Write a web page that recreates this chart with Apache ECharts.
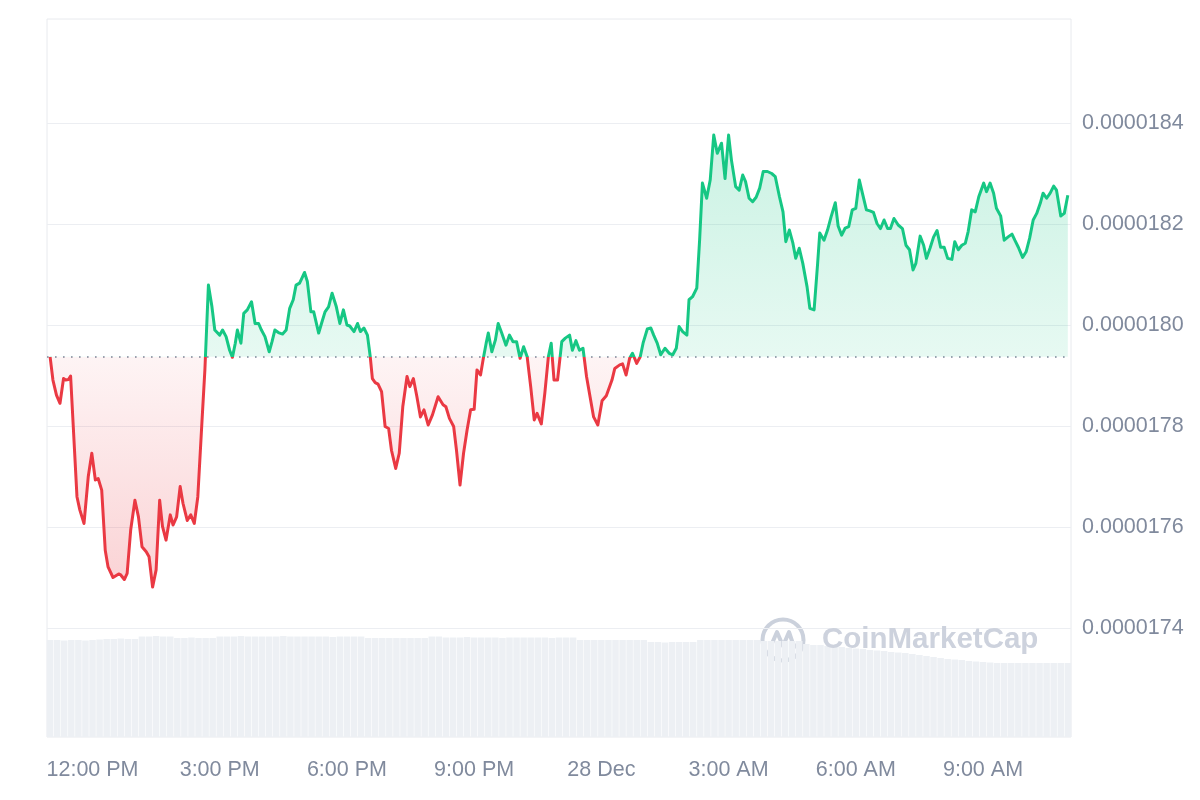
<!DOCTYPE html>
<html><head><meta charset="utf-8">
<script src="https://cdn.jsdelivr.net/npm/echarts@6/dist/echarts.min.js"></script>
<style>html,body{margin:0;padding:0;background:#fff}#c{width:1200px;height:800px}</style>
</head><body><div id="c"></div>
<script>
// minutes after 27 Dec 11:00
const minutes = [0,4,9,14,19,22,26,29,38,42,48,54,59,64,68,73,78,82,89,97,100,105,109,114,120,125,130,136,140,145,150,155,159,164,170,174,179,184,188,194,199,204,209,215,219,224,229,233,240,
244,249,254,258,262,265,270,274,279,285,290,295,299,304,310,314,318,323,329,334,339,344,348,353,356,360,364,369,373,380,384,389,394,399,405,410,415,420,424,430,435,439,444,449,453,456,460,464,469,474,479,
483,489,494,499,505,509,514,519,524,529,535,541,549,556,560,565,571,575,580,585,590,595,600,604,609,613,617,620,625,630,634,639,645,650,655,660,665,670,675,680,685,689,695,700,705,709,713,718,
724,729,735,739,744,749,754,759,769,775,781,787,795,799,806,810,815,820,824,830,835,839,845,850,854,859,864,870,876,881,886,890,895,901,904,909,915,919,923,929,934,939,944,950,955,960,
964,970,975,980,984,989,994,999,1004,1009,1015,1021,1026,1032,1037,1041,1046,1051,1055,1060,1065,1071,1075,1081,1086,1089,1095,1100,1105,1111,1115,1120,1125,1130,1135,1140,1145,1150,1155,1160,1165,1170,1175,1180,1185,1189,1194,1200,
1206,1211,1216,1221,1225,1231,1236,1240,1245,1250,1255,1260,1265,1270,1276,1280,1285,1290,1295,1299,1304,1309,1314,1321,1325,1330,1335,1339,1345,1350,1356,1361,1365,1370,1376,1381,1386,1391,1396,1401,1405,1410,1415,1420,1424,1430,1435,1440];
// price in units of 0.0000001
const prices = [179.37,178.91,178.61,178.45,178.94,178.91,178.92,178.99,176.60,176.34,176.07,177.00,177.46,176.93,176.96,176.73,175.54,175.21,175.00,175.07,175.05,174.96,175.08,175.94,176.53,176.20,175.61,175.51,175.41,174.81,175.15,176.53,176.01,175.74,176.24,176.04,176.20,176.80,176.47,176.13,176.24,176.07,176.60,178.12,179.11,180.79,180.36,179.90,179.80,
179.90,179.77,179.50,179.36,179.64,179.90,179.64,180.23,180.30,180.46,180.03,180.03,179.90,179.77,179.47,179.67,179.90,179.85,179.82,179.90,180.33,180.50,180.79,180.83,180.92,181.04,180.86,180.26,180.26,179.84,180.03,180.26,180.36,180.63,180.36,180.03,180.30,180.00,179.98,179.87,180.03,179.87,179.94,179.80,179.37,178.94,178.86,178.83,178.68,177.99,177.95,
177.52,177.16,177.46,178.38,178.98,178.78,178.94,178.58,178.18,178.32,178.02,178.22,178.58,178.42,178.38,178.15,177.99,177.52,176.83,177.46,177.92,178.32,178.33,179.11,179.01,179.34,179.64,179.84,179.47,179.70,180.03,179.84,179.60,179.80,179.67,179.67,179.34,179.57,179.37,178.78,178.12,178.25,178.04,178.65,179.37,179.64,178.91,178.91,
179.67,179.74,179.80,179.50,179.69,179.50,179.54,178.98,178.18,178.02,178.50,178.60,178.91,179.14,179.21,179.23,179.01,179.34,179.44,179.24,179.37,179.64,179.92,179.94,179.80,179.64,179.41,179.54,179.44,179.41,179.54,179.97,179.87,179.80,180.50,180.56,180.73,181.68,182.81,182.51,182.87,183.76,183.40,183.60,182.90,183.76,
183.27,182.74,182.67,182.97,182.84,182.51,182.44,182.53,182.71,183.04,183.04,183.00,182.94,182.54,182.24,181.65,181.88,181.62,181.32,181.52,181.22,180.76,180.33,180.30,181.22,181.82,181.68,181.88,182.14,182.42,181.96,181.78,181.92,181.95,182.28,182.31,182.87,182.57,182.28,182.26,182.23,182.01,181.91,182.08,181.91,181.91,182.11,181.98,
181.91,181.58,181.49,181.09,181.22,181.76,181.58,181.32,181.52,181.74,181.87,181.54,181.54,181.32,181.30,181.65,181.49,181.58,181.62,181.85,182.28,182.24,182.54,182.81,182.64,182.81,182.61,182.31,182.16,181.68,181.75,181.80,181.68,181.54,181.34,181.45,181.72,182.08,182.21,182.41,182.61,182.51,182.61,182.75,182.67,182.16,182.21,182.57];
const baselinePrice = 179.37;
// relative volume, one bar every 10 minutes
const volumes = [97,97,96.5,97,97,96.5,97,97.5,
98,98,98.5,98,98,
100.5,100.5,101,100.5,100.5,
99,99,99.5,99,99,99,
100.5,100.5,100.5,101,100.5,100.5,100.5,100.5,100.5,101,100.5,100.5,100.5,100.5,100.5,100.5,100,100.5,100.5,100.5,100.5,
99,99,99,99,99,99,99,99,99,
100.5,100.5,
99.5,99.5,99.5,100,99.5,99.5,99.5,99.5,99,99.5,99.5,99.5,99.5,99.5,99.5,99,99.5,99.5,99.5,
97,97,97,97,97,97,97,97,97,97,
95,95,94.5,95,95,95,95,
97,97,97,97,97,97,97,97,97,
96,96,96,96,96,96,
93,92,92,91,
91,90,89,88.5,88,87,86.5,86,85,84.5,
84,83,82,81,80,79,78,
77.5,77,76,75.5,75,74.5,74,74,74,74,74,74,74,74,74,74,74];
const volumeMinutes = volumes.map((_, i) => i * 10);
const tickMinutes = [60,240,420,600,780,960,1140,1320];
const tickLabels = ['12:00 PM','3:00 PM','6:00 PM','9:00 PM','28 Dec','3:00 AM','6:00 AM','9:00 AM'];

const GREEN = '#16c784', RED = '#ea3943';
const chart = echarts.init(document.getElementById('c'));
const labelStyle = {color:'#808a9d', fontSize:21.5, fontFamily:'Liberation Sans, Arial, sans-serif'};
const xMin = -4.4, xMax = 1444.5;

chart.setOption({
  animation:false,
  backgroundColor:'#fff',
  grid:[
    {left:47, right:129, top:22, bottom:71},
    {left:47, right:129, top:19, bottom:63, show:true, borderColor:'#e8eaee', borderWidth:1},
    {left:47, right:129, top:612, bottom:63}
  ],
  xAxis:[
    {type:'value', gridIndex:0, min:xMin, max:xMax,
     axisLine:{show:false}, axisTick:{show:false}, splitLine:{show:false},
     axisLabel:Object.assign({customValues:tickMinutes, margin:30,
       formatter:v=>{const i=tickMinutes.indexOf(Math.round(v)); return i>=0?tickLabels[i]:'';}}, labelStyle)},
    {type:'value', gridIndex:1, show:false, min:0, max:1},
    {type:'value', gridIndex:2, show:false, min:xMin, max:xMax}
  ],
  yAxis:[
    {type:'value', gridIndex:0, position:'right', min:172, max:186, interval:2,
     axisLine:{show:false}, axisTick:{show:false},
     splitLine:{show:true, showMinLine:false, showMaxLine:false, lineStyle:{color:'#eceef2', width:1}},
     axisLabel:Object.assign({margin:11, showMinLabel:false, showMaxLabel:false,
       formatter:v=>(v/1e7).toFixed(7)}, labelStyle)},
    {type:'value', gridIndex:1, show:false, min:0, max:1},
    {type:'value', gridIndex:2, show:false, min:0, max:125}
  ],
  series:[
    {id:'volume', type:'bar', xAxisIndex:2, yAxisIndex:2, z:1,
     data:volumeMinutes.map((m,i)=>[m, volumes[i]]), barWidth:6.5,
     itemStyle:{color:'#edf0f4'}},
    {id:'price', type:'line', xAxisIndex:0, yAxisIndex:0, z:5,
     data:minutes.map((m,i)=>[m, prices[i]]),
     showSymbol:false, symbol:'none', smooth:false,
     lineStyle:{width:3, join:'round', color:GREEN},
     areaStyle:{origin:baselinePrice, color:'rgba(22,199,132,0.2)'},
     markLine:{silent:true, symbol:'none', label:{show:false},
       lineStyle:{color:'#7d8598', width:1.6, type:[1.6,6.4]},
       data:[{yAxis:baselinePrice}]}}
  ],
  graphic:[
    {type:'group', left:760, top:617, z:100, children:[
      {type:'circle', shape:{cx:23, cy:23, r:20.5}, style:{fill:'none', stroke:'#cbd1dc', lineWidth:4}},
      {type:'polyline', shape:{points:[[10,31],[17,15],[23,29],[29,15],[33,27],[38,31]]},
       style:{fill:'none', stroke:'#cbd1dc', lineWidth:4, lineJoin:'round', lineCap:'round'}}
    ]},
    {type:'text', left:822, top:625, z:100,
     style:{text:'CoinMarketCap', font:'bold 29.5px Liberation Sans, Arial, sans-serif', fill:'#cdd2dd'}}
  ]
});

const px = v => chart.convertToPixel({xAxisIndex:0, yAxisIndex:0}, [0, v])[1];
const yTop = px(Math.max(...prices)), yBot = px(Math.min(...prices)), yBase = px(baselinePrice);
const ob = (yBase - yTop) / (yBot - yTop);
const cut = (yBase + 0.5 - yTop + 20) / (yBot - yTop + 40);
chart.setOption({series:[{id:'price',
  lineStyle:{width:3, join:'round', color:{
    type:'linear', global:true, x:0, y:yTop - 20, x2:0, y2:yBot + 20,
    colorStops:[
      {offset:0, color:GREEN},
      {offset:cut, color:GREEN},
      {offset:cut, color:RED},
      {offset:1, color:RED}
    ]}},
  areaStyle:{origin:baselinePrice, color:{
    type:'linear', global:true, x:0, y:yTop, x2:0, y2:yBot,
    colorStops:[
      {offset:0, color:'rgba(22,199,132,0.32)'},
      {offset:ob, color:'rgba(22,199,132,0.15)'},
      {offset:ob, color:'rgba(234,57,67,0.08)'},
      {offset:1, color:'rgba(234,57,67,0.32)'}
    ]}}}]});
</script></body></html>
